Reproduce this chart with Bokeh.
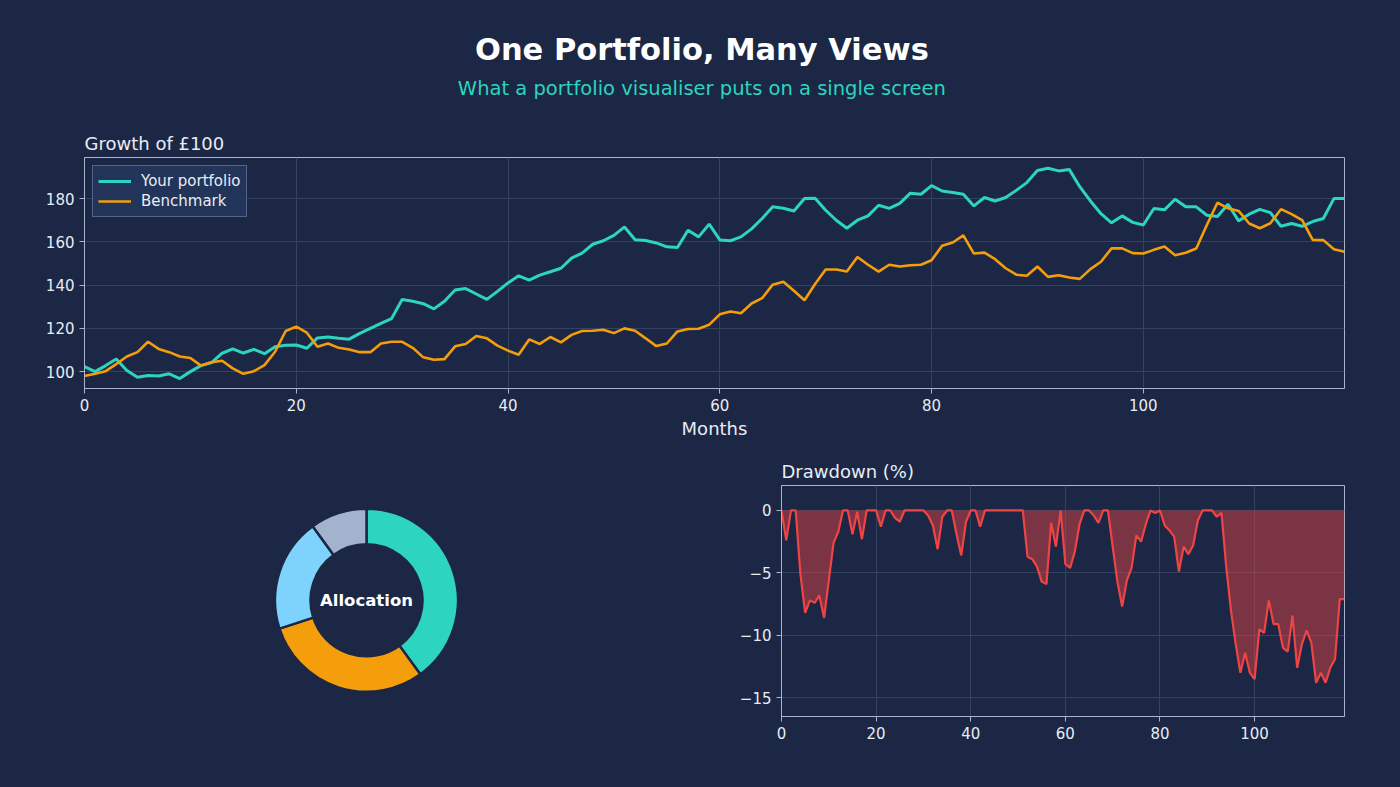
from math import pi
from bokeh.plotting import figure
from bokeh.layouts import column, row
from bokeh.models import Range1d, FixedTicker, CustomJSTickFormatter, ColumnDataSource
from bokeh.core.properties import value
from bokeh.embed import file_html
from bokeh.resources import INLINE

# ---------------- data ----------------
months = list(range(120))

portfolio = [
    102.3, 100.0, 102.8, 105.8, 100.5, 97.4, 98.2, 98.0, 99.0, 96.8,
    100.0, 102.8, 104.2, 108.5, 110.5, 108.6, 110.3, 108.3, 111.5, 112.2,
    112.3, 110.8, 115.6, 116.0, 115.4, 115.0, 117.7, 120.0, 122.3, 124.5,
    133.3, 132.5, 131.4, 129.0, 132.5, 137.7, 138.4, 135.9, 133.4, 137.1,
    141.0, 144.3, 142.3, 144.6, 146.2, 147.8, 152.5, 154.8, 158.9, 160.5,
    163.0, 166.9, 161.0, 160.6, 159.5, 157.7, 157.4, 165.4, 162.3, 168.2,
    160.9, 160.5, 162.3, 166.0, 170.8, 176.2, 175.5, 174.3, 180.0, 180.2,
    174.6, 170.0, 166.3, 170.0, 172.0, 176.9, 175.5, 177.8, 182.5, 182.0,
    186.0, 183.5, 182.8, 182.0, 176.6, 180.5, 178.9, 180.5, 183.8, 187.4,
    193.0, 194.0, 192.8, 193.5, 185.5, 178.9, 173.0, 168.8, 172.0, 169.0,
    167.8, 175.4, 174.8, 179.7, 176.2, 176.2, 172.3, 171.7, 177.4, 169.7,
    172.8, 175.0, 173.5, 167.2, 168.5, 167.2, 169.4, 170.8, 180.0, 180.0,
]

benchmark = [
    98.0, 99.0, 100.2, 103.5, 107.0, 109.0, 113.8, 110.5, 109.0, 107.0,
    106.3, 102.8, 104.3, 105.0, 101.5, 99.0, 100.2, 103.0, 109.2, 118.8,
    120.8, 118.0, 111.5, 113.0, 111.0, 110.2, 109.0, 109.0, 113.0, 113.8,
    113.8, 111.0, 106.6, 105.5, 105.8, 111.7, 112.8, 116.5, 115.4, 112.0,
    109.7, 107.8, 114.9, 112.8, 116.0, 113.5, 117.0, 118.8, 118.9, 119.4,
    117.8, 120.0, 118.9, 115.4, 111.8, 113.0, 118.6, 119.7, 119.8, 121.7,
    126.5, 127.8, 127.0, 131.5, 134.0, 140.2, 141.5, 137.4, 133.0, 140.5,
    147.2, 147.2, 146.3, 153.0, 149.4, 146.2, 149.4, 148.6, 149.2, 149.4,
    151.5, 158.2, 159.7, 163.0, 154.6, 155.0, 152.0, 147.8, 144.8, 144.3,
    148.6, 143.8, 144.6, 143.5, 142.9, 147.4, 150.8, 157.0, 157.0, 154.8,
    154.6, 156.3, 157.8, 153.8, 155.0, 156.9, 167.8, 178.1, 175.5, 174.3,
    168.5, 166.3, 168.6, 175.1, 172.8, 170.0, 160.9, 160.8, 156.6, 155.4,
]

drawdown_pct = [
    0, -2.4, 0, 0, -5.1, -8.2, -7.2, -7.4, -6.8, -8.6,
    -5.6, -2.6, -1.7, 0, 0, -1.9, -0.1, -2.3, 0, 0,
    0, -1.3, 0, 0, -0.6, -0.9, 0, 0, 0, 0,
    0, -0.4, -1.2, -3.1, -0.5, 0, 0, -1.9, -3.6, -0.9,
    0, 0, -1.3, 0, 0, 0, 0, 0, 0, 0,
    0, 0, -3.7, -3.9, -4.5, -5.7, -5.9, -1.0, -2.9, 0,
    -4.3, -4.6, -3.3, -1.1, 0, 0, -0.4, -1.0, 0, 0,
    -2.9, -5.7, -7.7, -5.6, -4.6, -2.0, -2.5, -1.1, 0, -0.2,
    0, -1.2, -1.6, -2.1, -4.9, -2.9, -3.5, -2.8, -0.8, 0,
    0, 0, -0.5, -0.2, -4.5, -8.0, -10.7, -13.0, -11.4, -13.0,
    -13.5, -9.5, -9.8, -7.2, -9.1, -9.1, -11.0, -11.3, -8.4, -12.6,
    -10.7, -9.6, -10.6, -13.8, -13.0, -13.8, -12.6, -11.9, -7.1, -7.1,
]

alloc_labels = ["Equities", "Bonds", "International", "Cash"]
alloc_values = [40, 30, 20, 10]

x_ticks = [0, 20, 40, 60, 80, 100]
growth_ticks = [100, 120, 140, 160, 180]
dd_ticks = [0, -5, -10, -15]

# ---------------- style ----------------
BG = "#1b2744"
FG = "#e8ecf4"
AXIS = "#aab4cc"
GRID = "#34425f"
TEAL = "#2dd4bf"
ORANGE = "#f59e0b"
LBLUE = "#7dd3fc"
GREY = "#a3b3cd"
RED = "#ef4444"
FONT = "DejaVu Sans"


def style_axes(p):
    for ax in p.axis:
        ax.axis_line_color = AXIS
        ax.major_tick_line_color = AXIS
        ax.minor_tick_line_color = None
        ax.major_tick_out = 5
        ax.major_tick_in = 0
        ax.major_label_text_color = FG
        ax.major_label_text_font = FONT
        ax.major_label_text_font_size = "15px"
        ax.axis_label_text_color = FG
        ax.axis_label_text_font = FONT
        ax.axis_label_text_font_style = "normal"
        ax.axis_label_text_font_size = "18px"
    p.xaxis.major_label_standoff = 5
    p.yaxis.major_label_standoff = 5
    for g in p.grid:
        g.grid_line_color = GRID
        g.grid_line_width = 1
    p.outline_line_color = AXIS
    p.outline_line_width = 1
    p.title.text_color = FG
    p.title.text_font = FONT
    p.title.text_font_style = "normal"
    p.title.text_font_size = "18px"
    p.title.standoff = 7
    p.title.offset = 0


# ---------------- header ----------------
head = figure(width=1400, height=125, x_range=Range1d(0, 1400), y_range=Range1d(0, 125),
              x_axis_location=None, y_axis_location=None,
              output_backend="svg", toolbar_location=None,
              min_border=0, background_fill_color=BG, border_fill_color=BG)
head.grid.visible = False
head.outline_line_color = None
head.text(x=[686], y=[76], text=["One Portfolio, Many Views"], text_align="center",
          text_baseline="middle", text_color="#ffffff", text_font=value(FONT),
          text_font_style="bold", text_font_size="30.5px")
head.text(x=[686], y=[37], text=["What a portfolio visualiser puts on a single screen"],
          text_align="center", text_baseline="middle", text_color=TEAL,
          text_font=value(FONT), text_font_size="19.5px")

# ---------------- growth chart ----------------
src = ColumnDataSource(dict(m=months, port=portfolio, bench=benchmark, dd=drawdown_pct))

p = figure(width=1400, height=320, min_border_left=84, min_border_right=56,
           min_border_top=32, min_border_bottom=57,
           x_range=Range1d(0, 119), y_range=Range1d(92.2, 199),
           output_backend="svg", toolbar_location=None, title="Growth of £100",
           background_fill_color=BG, border_fill_color=BG)
p.line("m", "port", source=src, color=TEAL, line_width=3, legend_label="Your portfolio")
p.line("m", "bench", source=src, color=ORANGE, line_width=2.6, legend_label="Benchmark")
p.xaxis.ticker = FixedTicker(ticks=x_ticks)
p.yaxis.ticker = FixedTicker(ticks=growth_ticks)
p.xaxis.axis_label = "Months"
style_axes(p)
p.xaxis.axis_label_standoff = 4
lg = p.legend[0]
lg.location = "top_left"
lg.margin = 8
lg.padding = 5
lg.spacing = 0
lg.label_standoff = 10
lg.glyph_width = 33
lg.glyph_height = 20
lg.label_height = 20
lg.label_text_color = FG
lg.label_text_font = FONT
lg.label_text_font_size = "15px"
lg.background_fill_color = "#24365c"
lg.background_fill_alpha = 0.9
lg.border_line_color = "#8494b6"
lg.border_line_width = 1

# ---------------- donut ----------------
d = figure(width=700, height=342, x_range=Range1d(-366, 334), y_range=Range1d(-172, 170),
           x_axis_location=None, y_axis_location=None,
           output_backend="svg", toolbar_location=None, min_border=0,
           background_fill_color=BG, border_fill_color=BG)
d.grid.visible = False
d.outline_line_color = None
total = float(sum(alloc_values))
starts, ends = [], []
acc = 0.0
for v in alloc_values:
    starts.append(pi / 2 - 2 * pi * acc / total)
    acc += v
    ends.append(pi / 2 - 2 * pi * acc / total)
dsrc = ColumnDataSource(dict(label=alloc_labels, val=alloc_values, start=starts, end=ends,
                             color=[TEAL, ORANGE, LBLUE, GREY]))
d.annular_wedge(x=0, y=0, inner_radius=56, outer_radius=91.5, start_angle="start",
                end_angle="end", direction="clock", fill_color="color",
                line_color=BG, line_width=2.5, source=dsrc)
d.text(x=[0], y=[0], text=["Allocation"], text_align="center", text_baseline="middle",
       text_color="#ffffff", text_font=value(FONT), text_font_style="bold",
       text_font_size="16.5px")

# ---------------- drawdown ----------------
q = figure(width=700, height=342, min_border_left=81, min_border_right=56,
           min_border_top=40, min_border_bottom=71,
           x_range=Range1d(0, 119), y_range=Range1d(-16.5, 2.0),
           output_backend="svg", toolbar_location=None, title="Drawdown (%)",
           background_fill_color=BG, border_fill_color=BG)
q.varea(x="m", y1=0, y2="dd", source=src, fill_color=RED, fill_alpha=0.45)
q.line("m", "dd", source=src, color=RED, line_width=2.2)
q.xaxis.ticker = FixedTicker(ticks=x_ticks)
q.yaxis.ticker = FixedTicker(ticks=dd_ticks)
q.yaxis.formatter = CustomJSTickFormatter(code="return String(tick).replace('-', '\\u2212');")
style_axes(q)

layout = column(head, p, row(d, q, spacing=0), spacing=0)
layout.styles = {"background-color": BG}

open("out.html", "w").write(file_html(layout, INLINE, title="One Portfolio, Many Views"))
